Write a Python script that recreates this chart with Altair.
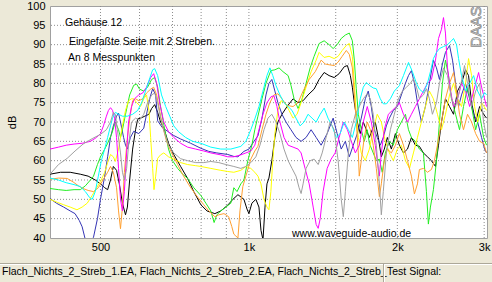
import altair as alt
import pandas as pd

# ---------------- data (Hz, dB) ----------------
black_hz = [395,415,434,455,472,488,500,510,517,524,531,539,546,554,562,567,573,581,589,595,603,615,627,635,644,653,662,672,687,704,727,751,773,799,822,853,877,906,928,950,977,991,1000,1014,1033,1048,1058,1068,1078,1088,1098,1113,1129,1145,1167,1195,1229,1258,1288,1318,1356,1388,1421,1454,1489,1524,1561,1584,1606,1621,1636,1659,1682,1706,1730,1755,1779,1804,1830,1856,1882,1909,1945,1982,2019,2058,2097,2136,2176,2217,2259,2302,2345,2390,2424,2458,2504,2552,2600,2649,2699,2750,2789,2829,2883,2937,2992,3034]
black_db = [56.5,57,57,56.5,56,55,54,53,52.5,55,58.5,57.5,54,49,46,48,55,63,68,70.8,71,71.5,72,73.5,74.5,72.5,70,68.4,64.5,61.6,58.5,55.4,52,48.6,47,46.3,47,48.5,50,51.2,50,47.5,46.3,49,50,48,42,39.5,48,54,55.5,60,66,70,72,74,76,75,75.5,77,78.5,81,82.8,82,81.5,82.5,84.3,84.6,82,79,75,70,67,70,68,66,68,70,66,61,63,66,63,67,64,62,63,66,64,63.7,62,61,60,58.5,64,70,76,74,72,78,80,83.5,82,75,70,74,72,71]

blue_hz = [395,407,421,434,444,453,459,466,470,477,484,493,500,510,517,524,531,539,544,549,557,562,567,575,584,598,612,620,630,638,647,653,668,684,704,727,762,799,829,861,906,932,950,977,1000,1024,1043,1063,1083,1098,1113,1129,1145,1167,1189,1217,1246,1276,1306,1337,1369,1401,1441,1482,1510,1539,1569,1598,1628,1659,1690,1722,1746,1771,1796,1821,1847,1873,1900,1927,1963,2000,2038,2077,2107,2136,2166,2197,2238,2280,2323,2367,2401,2435,2469,2504,2552,2588,2625,2662,2699,2750,2803,2856,2910,2964,3006,3034]
blue_db = [50.2,49,48,47,46.3,44.5,42.9,39.5,38,39,40.2,45,50,56,61,66,69,71.5,72.3,70,66,64,63,66,67.6,67,68.4,72,76.3,78.6,77,70.3,68.5,67.6,66.5,65.6,64.5,63.2,62.4,62,61.6,61.1,61,62.4,63,65,66.4,71,77,80,81,78,75,72,70,68,66,65,66,68,66,64,67,71,67,63,65,61,64,67,71,76,78,74,68,66,64,66,69,71,73,74,77,80,82,83.3,80,75,70,74,80,86,84,81,85,88,89.8,86,80,74,77,80,76,72,70,66,63,62]

green_hz = [395,411,426,442,455,466,477,484,493,500,510,517,527,536,544,549,554,562,573,584,592,600,612,623,635,644,653,662,675,687,700,717,734,751,773,799,818,837,850,861,877,898,919,932,946,963,977,995,1014,1028,1043,1063,1083,1108,1129,1151,1173,1201,1217,1235,1258,1282,1306,1331,1356,1388,1421,1454,1482,1510,1539,1569,1598,1621,1636,1651,1667,1690,1714,1738,1755,1787,1813,1839,1864,1891,1927,1963,2000,2038,2077,2107,2136,2176,2217,2259,2291,2312,2334,2367,2401,2435,2469,2504,2540,2576,2625,2674,2724,2776,2829,2883,2937,2992,3034]
green_db = [52.8,52.5,52.3,52.5,52.5,53.5,55,56,59,61,63,64.5,67,70,68,66,68,72,77,79.5,79.8,78.5,78,79,81,81.5,79,74,68,63,60,58,56.5,55.4,53,51,49,47,44,46,47,48,49,53,52,54,55,60,64,68,71.5,76,80,83.3,83.5,84,83,82,79.5,76,73.5,76,80,84,87,90.3,91,90,89,90,91.6,92.5,93,91,86,78.6,72,68,65,68,64.5,62,60,60.4,57,62,65,64,68,70,72,68,66,65,63,62,52,43.6,48,52.5,60,70,80,86,82,76,72,68,74,79,74,68,72,66,64]

yellow_hz = [395,409,421,434,448,459,470,481,491,500,510,517,524,531,536,544,552,562,570,578,584,592,603,612,620,627,632,638,642,647,653,662,672,687,704,727,751,780,799,837,877,906,932,963,986,1009,1028,1043,1058,1073,1088,1098,1108,1118,1129,1145,1162,1184,1206,1229,1252,1276,1306,1337,1369,1388,1421,1454,1489,1517,1546,1576,1598,1621,1636,1651,1667,1690,1722,1755,1787,1821,1856,1891,1927,1963,2000,2038,2077,2117,2156,2197,2238,2280,2323,2367,2412,2458,2504,2552,2600,2649,2699,2750,2789,2829,2869,2910,2964,3034]
yellow_db = [50,49.2,48.6,48,47.3,48,49,51,53,54.6,57,59.5,61.6,61,59.8,63,68,73,75.5,76,76,75,74,76,77,73,66,58,52.5,56,60.6,61.5,62,61,60.4,59.5,59,58.7,58.5,58,57.5,57.2,57,57.5,58.5,58,57,56,54,50,48,47.3,52,60,67,73,75.5,75,73,71,72,75,79,83,86,88,86.7,87,86.4,87,88.5,89.8,90.3,87,80,72,66,62,60,63,68,72,70,65,62,60,63,64,60,58,62,66,70,74,78,76,72,68,72,77,80,76,74,80,86.4,82,74,70,75,73]

orange_hz = [395,411,428,440,451,461,472,484,495,507,517,524,531,539,544,549,554,559,567,575,581,589,598,609,620,632,641,650,659,668,681,697,717,737,762,788,810,829,853,869,890,910,923,932,941,950,959,972,991,1009,1028,1043,1063,1083,1103,1124,1145,1167,1189,1206,1229,1258,1288,1325,1363,1401,1428,1454,1489,1517,1546,1576,1598,1621,1636,1651,1667,1674,1690,1714,1738,1763,1787,1813,1839,1856,1882,1909,1945,1982,2019,2058,2097,2136,2166,2197,2217,2259,2302,2345,2378,2412,2458,2504,2552,2600,2637,2674,2724,2776,2829,2883,2937,2992,3034]
orange_db = [55.2,55.5,55.4,54.5,53.5,52.8,52.3,52,53,55.2,57,58.5,57,53,47,42.4,48,57,66,72,75.5,76,75.5,76,77.5,78.5,79,77,73,69,65,62,59,56,53,50.5,48.6,47,45.5,46,46.3,45.5,43,41,40.5,40,47,53.3,57,60.4,62.5,63.7,68,72,75,77,77.3,76,74.5,74.2,74,75,78,81,83,86,85,84.8,84.6,85.5,87,88.5,87.5,84,77,70,62,56,60,66,70,68,64,58,50.7,54,60,63,62,64,67,64,60,56,51.4,54,57.7,58,57,57.7,60,64,70,76,80,82.8,78,72,68,72,70,67,65,64.5,62]

magenta_hz = [395,411,426,442,459,477,491,500,507,514,519,524,529,534,539,544,549,554,559,565,570,578,586,598,609,620,632,641,650,659,672,687,704,727,751,780,810,837,877,906,932,963,986,1009,1028,1048,1068,1088,1108,1124,1140,1156,1178,1201,1229,1258,1276,1300,1325,1350,1369,1382,1395,1414,1441,1468,1496,1524,1554,1584,1613,1644,1674,1706,1738,1771,1804,1821,1839,1856,1882,1918,1954,1991,2019,2058,2097,2136,2176,2217,2259,2302,2345,2390,2424,2458,2481,2504,2528,2564,2600,2649,2699,2750,2803,2856,2923,2964,3006,3034]
magenta_db = [63,63.5,64,64.3,64.5,65,66,67,69,71.5,73,73.7,73,71,66,58,50,47,52,62,70,74,76,77,77.5,79,81.5,82.5,80,75,70,67.5,66,64.5,63.5,63,62.5,62,61.5,61,61,61.5,62,62.5,64,68,72,75,76.5,76.8,74,70,66,64,63.5,63,62,58,54,48,43.5,42.5,45,52,58,60.4,62,66,70,68,65,62,64,70,74,70,64,60,56,62,68,72,73,74,75,72,70,72,74,76,78,80,81,86,91.6,94,97,93,84,78,74,76,80,78,74,78,82.8,79,76,74]

cyan_hz = [395,411,426,442,455,466,475,481,488,495,502,510,517,524,529,536,544,554,567,581,595,606,617,630,638,644,653,665,678,691,704,720,744,769,799,837,877,919,963,986,1009,1028,1048,1068,1088,1103,1118,1135,1156,1178,1201,1223,1246,1270,1294,1318,1343,1369,1395,1421,1447,1475,1503,1531,1561,1591,1621,1651,1682,1706,1730,1755,1787,1813,1847,1873,1900,1936,1972,2019,2058,2107,2146,2187,2217,2259,2302,2334,2367,2401,2435,2481,2528,2576,2600,2637,2662,2699,2750,2803,2856,2910,2964,3006,3034]
cyan_db = [55.5,55,54.3,53.8,53.3,52,50.5,50,52,56,60,63,66,69,71,72.5,72,71.5,71.5,72,73,75,78,81.5,83.5,83.8,82,77,74,71.5,69,67.5,66,65,64.5,63.5,63,63,63.7,65,68,70.8,74,78,82,84,82,79.4,77,75,74,73,71,69,70,72,71,70,72,73.6,71,69,66,67,70,68,66,70,76,79,80.2,79.5,78.8,78.6,76,74.7,74.7,76,78,79.4,82,85.4,83,80,78.5,77.6,80,83,86.4,88,89,89.5,90,91,91.6,90,86.4,82,78,80,82,78,76,77.6,77]

gray_hz = [395,411,428,444,461,481,500,514,524,531,536,541,549,554,559,565,570,578,589,600,612,623,635,644,653,662,675,687,704,727,751,780,810,837,869,898,932,963,986,1009,1033,1053,1073,1093,1113,1135,1156,1178,1201,1223,1246,1264,1276,1288,1306,1331,1356,1382,1408,1434,1461,1489,1517,1539,1554,1569,1591,1613,1644,1674,1706,1738,1763,1787,1813,1839,1856,1873,1900,1936,1972,2010,2048,2087,2126,2156,2187,2217,2259,2291,2323,2356,2401,2435,2481,2528,2576,2625,2674,2737,2776,2829,2883,2937,2992,3034]
gray_db = [56.5,59,60.6,62.5,64.3,65.7,66.8,68,70,72.5,72,68,62,57,55,58,64,70,71,70.5,72,75,77,77.5,75,71,67,64,62,60.5,60,59.5,59.5,59.8,59.5,59,58.5,58,58.5,59.5,61,64,68,71,72,70,67,63,60,58,56,53,51.5,54,58,60,60.4,59,62,66,70,68,60,50,45.5,52,62,68,72,74,76,77.3,76,72,64,54,46,52,62,68,72,76,78,79,80,81.2,79,76,77,78.6,76,72,75,80,84,82,76,74,78,84.6,80,74,78,80,70,66]

series_names = ["Streb_1", "Streb_2", "Streb_3", "Streb_4", "Streb_5", "Streb_6", "Streb_7", "Streb_8"]
series_colors = ["#000000", "#3535b5", "#22ee22", "#ffff00", "#ffa030", "#ff00ff", "#00ffff", "#a0a0a0"]
series_data = [(black_hz, black_db), (blue_hz, blue_db), (green_hz, green_db), (yellow_hz, yellow_db),
               (orange_hz, orange_db), (magenta_hz, magenta_db), (cyan_hz, cyan_db), (gray_hz, gray_db)]

grid_hz = [500, 600, 700, 800, 900, 1000, 1500, 2000, 3000]
grid_db = [45, 50, 55, 60, 65, 70, 75, 80, 85, 90, 95]
x_ticks = [500, 1000, 2000, 3000]
y_ticks = [40, 45, 50, 55, 60, 65, 70, 75, 80, 85, 90, 95, 100]

title_lines = ["Gehäuse 12", "Eingefaßte Seite mit 2 Streben.", "An 8 Messpunkten"]
website = "www.waveguide-audio.de"
logo = "DAAS"
status_left = "Flach_Nichts_2_Streb_1.EA, Flach_Nichts_2_Streb_2.EA, Flach_Nichts_2_Streb_"
status_right = "Test Signal:"

# ---------------- build table ----------------
rows = []
for name, (hz, db) in zip(series_names, series_data):
    for i, (f, d) in enumerate(zip(hz, db)):
        rows.append({"series": name, "f": f, "db": d, "i": i})
df = pd.DataFrame(rows)

FONT = "Liberation Sans"
xscale = alt.Scale(type="log", domain=[395, 3040], nice=False)
yscale = alt.Scale(domain=[40, 100], nice=False, zero=False)

x_axis = alt.Axis(values=x_ticks, title=None, grid=False, ticks=False, tickSize=0,
                  domain=False, labelFlush=False, labelOverlap=False,
                  labelExpr="datum.value >= 1000 ? (datum.value/1000) + 'k' : datum.value",
                  labelFont=FONT, labelFontSize=11, labelColor="#000000", labelPadding=3)
y_axis = alt.Axis(values=y_ticks, title="dB", grid=False, ticks=False, tickSize=0,
                  domain=False, labelFont=FONT, labelFontSize=11, labelColor="#000000",
                  labelPadding=5, labelOverlap=False, labelFlush=False,
                  titleFont=FONT, titleFontSize=11, titleFontWeight="normal",
                  titleColor="#000000", titleX=-38, titleY=116, titleAngle=270,
                  titleAlign="center", titleBaseline="middle")

vgrid = alt.Chart(pd.DataFrame({"f": grid_hz})).mark_rule(
    color="#8c8c8c", strokeDash=[1, 2], strokeWidth=1
).encode(x=alt.X("f:Q", scale=xscale, axis=x_axis))

hgrid = alt.Chart(pd.DataFrame({"db": grid_db})).mark_rule(
    color="#8c8c8c", strokeDash=[1, 2], strokeWidth=1
).encode(y=alt.Y("db:Q", scale=yscale, axis=y_axis))

lines = alt.Chart(df).mark_line(strokeWidth=1, clip=True).encode(
    x=alt.X("f:Q", scale=xscale, axis=x_axis),
    y=alt.Y("db:Q", scale=yscale, axis=y_axis),
    color=alt.Color("series:N", scale=alt.Scale(domain=series_names, range=series_colors), legend=None),
    order=alt.Order("i:Q"),
)


def label(text, x, y, size=10.5, align="left", angle=0, **kw):
    return alt.Chart(pd.DataFrame({"t": [text]})).mark_text(
        align=align, baseline="middle", font=FONT, fontSize=size, angle=angle, **kw
    ).encode(x=alt.value(x), y=alt.value(y), text="t:N")


texts = [
    label(title_lines[0], 15, 16.5, color="#000000"),
    label(title_lines[1], 19, 36, color="#000000"),
    label(title_lines[2], 18, 52, color="#000000"),
    label(website, 242, 228, color="#000000"),
    label(logo, 426, 21, size=15, align="center", angle=270, fill="#ffffff", stroke="#8a8a8a", strokeWidth=0.8),
    label(status_left, -48, 266, color="#000000"),
    label(status_right, 337, 266, color="#000000"),
]

dummy = alt.Chart(pd.DataFrame({"a": [0]}))
status_line = dummy.mark_rule(color="#aca899", strokeWidth=1).encode(
    x=alt.value(-50), x2=alt.value(442), y=alt.value(257.5))
status_line2 = dummy.mark_rule(color="#ffffff", strokeWidth=1).encode(
    x=alt.value(-50), x2=alt.value(442), y=alt.value(258.5))
divider = dummy.mark_rule(color="#aca899", strokeWidth=1).encode(
    x=alt.value(333.5), y=alt.value(258), y2=alt.value(276))
divider2 = dummy.mark_rule(color="#ffffff", strokeWidth=1).encode(
    x=alt.value(334.5), y=alt.value(258), y2=alt.value(276))

chart = alt.layer(vgrid, hgrid, lines, *texts, status_line, status_line2, divider, divider2).properties(
    width=437, height=232,
    autosize=alt.AutoSizeParams(type="none"),
    padding={"left": 50, "top": 6, "right": 5, "bottom": 44},
    background="#ece9d8",
).configure_view(fill="#ffffff", stroke="#a0a0a0", strokeWidth=1)

chart.save("out.html", embed_options={"renderer": "svg", "actions": False})
